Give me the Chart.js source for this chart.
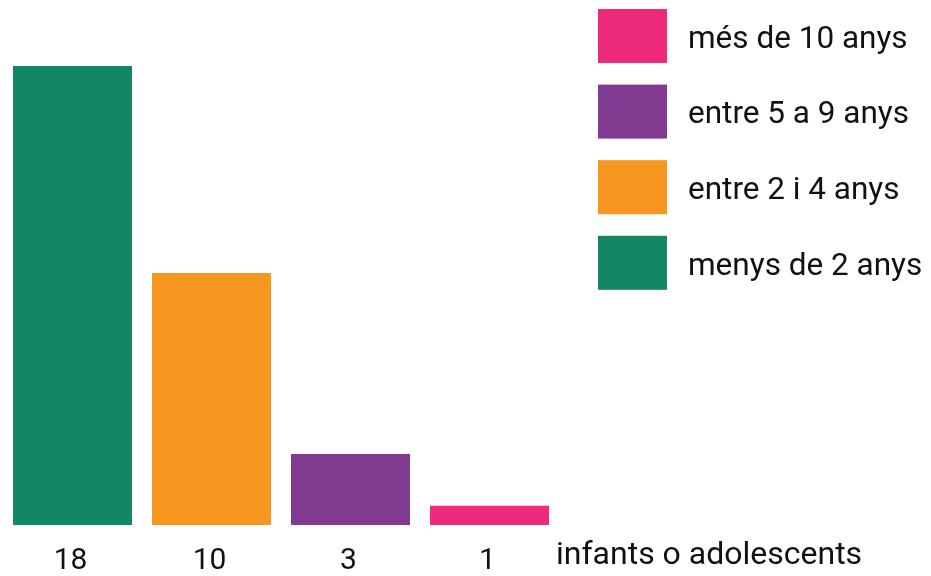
<!DOCTYPE html>
<html>
<head>
<meta charset="utf-8">
<script src="https://cdn.jsdelivr.net/npm/chart.js@4"></script>
<style>
  html, body { margin: 0; padding: 0; background: #fff; }
  canvas { display: block; }
</style>
</head>
<body>
<canvas id="chart" width="931" height="576"></canvas>
<script>
// data
const categories = ['menys de 2 anys', 'entre 2 i 4 anys', 'entre 5 a 9 anys', 'més de 10 anys'];
const counts = [18, 10, 3, 1];
const tickLabels = ['18', '10', '3', '1'];
const barColors = ['#138765', '#F7971F', '#813C92', '#EE2A7B'];
const axisTitle = 'infants o adolescents';

const FONT = 'Roboto, "Noto Sans", sans-serif';
const TEXT = '#111111';

// bottom labels under each bar + the axis caption
const bottomLabels = {
  id: 'bottomLabels',
  afterDraw(chart) {
    const { ctx, scales: { x } } = chart;
    ctx.save();
    ctx.fillStyle = TEXT;
    ctx.font = '30px ' + FONT;
    ctx.textBaseline = 'alphabetic';
    ctx.textAlign = 'center';
    tickLabels.forEach((t, i) => {
      ctx.fillText(t, x.getPixelForValue(i) - 2, 569);
    });
    ctx.font = '32px ' + FONT;
    ctx.textAlign = 'left';
    ctx.fillText(axisTitle, 556, 564);
    ctx.restore();
  }
};

// legend on the right, top item is the last category
const sideLegend = {
  id: 'sideLegend',
  afterDraw(chart) {
    const ctx = chart.ctx;
    ctx.save();
    ctx.font = '31.5px ' + FONT;
    ctx.textBaseline = 'middle';
    ctx.textAlign = 'left';
    const n = categories.length;
    for (let k = 0; k < n; k++) {
      const i = n - 1 - k;
      const top = 9 + k * 75.6;
      ctx.fillStyle = barColors[i];
      ctx.fillRect(598, top, 69, 54);
      ctx.fillStyle = TEXT;
      ctx.fillText(categories[i], 688, top + 31);
    }
    ctx.restore();
  }
};

new Chart(document.getElementById('chart'), {
  type: 'bar',
  data: {
    labels: tickLabels,
    datasets: [{
      data: counts,
      backgroundColor: barColors,
      borderWidth: 0,
      barPercentage: 0.856,
      categoryPercentage: 1
    }]
  },
  options: {
    responsive: false,
    animation: false,
    devicePixelRatio: 1,
    layout: { padding: { top: 66, bottom: 51, left: 3, right: 372 } },
    plugins: { legend: { display: false }, tooltip: { enabled: false } },
    scales: {
      x: { display: false },
      y: { display: false, min: 0.26, max: 18 }
    }
  },
  plugins: [bottomLabels, sideLegend]
});
</script>
</body>
</html>
